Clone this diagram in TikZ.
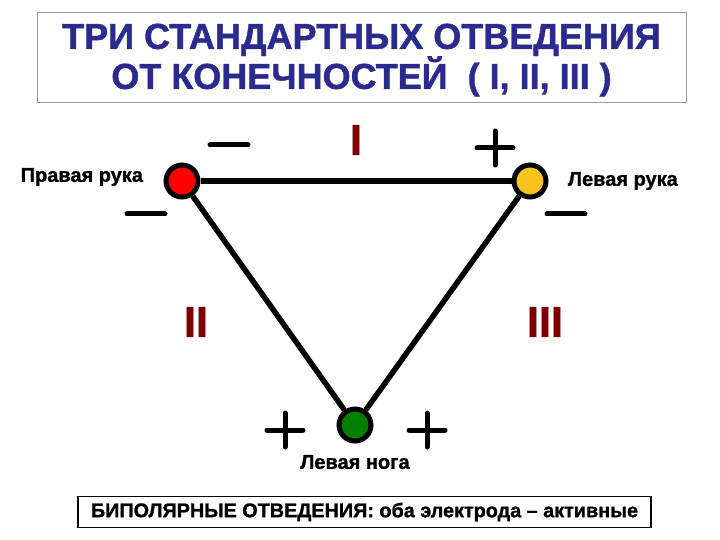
\documentclass[tikz,border=0pt]{standalone}
\usepackage{fontspec}
\setmainfont{Liberation Sans}[BoldFeatures={FakeBold=1.2}]
\usetikzlibrary{positioning}

\definecolor{titleblue}{RGB}{43,43,143}
\definecolor{leadred}{RGB}{128,0,0}
\definecolor{handyellow}{RGB}{250,195,30}
\definecolor{footgreen}{RGB}{0,128,0}

\tikzset{
  pics/plussign/.style={code={\draw[sign] (-18,0) -- (18,0) (0,-17) -- (0,17);}},
  pics/minussign/.style={code={\draw[sign] (-19,0) -- (19,0);}}
}

\begin{document}
\begin{tikzpicture}[x=1pt,y=-1pt,
  electrode/.style={circle,draw,line width=5pt,minimum size=32pt,inner sep=0pt},
  wire/.style={line width=5.5pt},
  sign/.style={line width=5pt,line cap=round},
  lead/.style={text=leadred,font=\bfseries\fontsize{43}{43}\selectfont},
  limb/.style={font=\bfseries\fontsize{20}{20}\selectfont}]
\useasboundingbox (0,0) rectangle (720,540);

% title
\node[draw=gray!80,line width=0.8pt,minimum width=649pt,minimum height=90pt] (titlebox) at (361.5,57) {};
\node[align=center,text=titleblue,font=\bfseries\fontsize{36}{40}\selectfont,yshift=-3pt] (title) at (titlebox.center)
  {ТРИ СТАНДАРТНЫХ ОТВЕДЕНИЯ\\ОТ КОНЕЧНОСТЕЙ \ ( I, II, III )};

% electrodes
\node[electrode,fill=red] (ra) at (182,181) {};
\node[electrode,fill=handyellow] (la) at (530,181) {};
\node[electrode,fill=footgreen] (ll) at (355,425) {};

\draw[wire] (ra) -- (la);
\draw[wire] (ra) -- (ll);
\draw[wire] (la) -- (ll);

\node[limb,left=17pt of ra,yshift=4pt] (ralabel) {Правая рука};
\node[limb,right=16pt of la] (lalabel) {Левая рука};
\node[limb,below=8pt of ll] (lllabel) {Левая нога};

% leads
\node[lead] (one) at (356,140) {I};
\node[lead] (two) at (196,322) {II};
\node[lead] (three) at (545,322) {III};

% polarity
\pic (mra1) at (229,145) {minussign};
\pic (mra2) at (146,214) {minussign};
\pic (pla1) at (495,148) {plussign};
\pic (mla2) at (566,214) {minussign};
\pic (pll1) at (285,430) {plussign};
\pic (pll2) at (427,430) {plussign};

% note
\node[draw,line width=1.2pt,minimum width=573pt,minimum height=31pt,
      font=\bfseries\fontsize{19.8}{19.8}\selectfont] (note) at (364.5,512)
  {БИПОЛЯРНЫЕ ОТВЕДЕНИЯ: оба электрода – активные};
\end{tikzpicture}
\end{document}
